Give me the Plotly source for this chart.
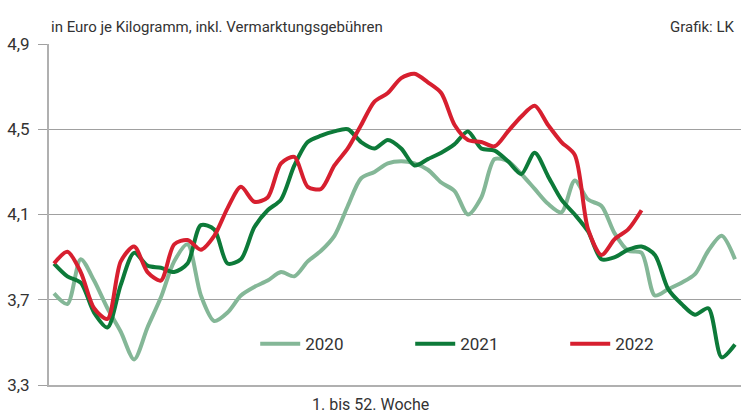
import plotly.graph_objects as go

weeks = list(range(1, 53))

y2020 = [3.73, 3.68, 3.89, 3.79, 3.66, 3.55, 3.42, 3.57, 3.71, 3.88,
         3.96, 3.72, 3.60, 3.64, 3.72, 3.76, 3.79, 3.83, 3.81, 3.88,
         3.93, 4.00, 4.14, 4.27, 4.30, 4.34, 4.35, 4.34, 4.31, 4.25,
         4.21, 4.10, 4.18, 4.36, 4.35, 4.29, 4.22, 4.15, 4.11, 4.26,
         4.17, 4.14, 4.01, 3.93, 3.92, 3.72, 3.75, 3.78, 3.82, 3.93,
         4.00, 3.89]

y2021 = [3.87, 3.81, 3.78, 3.64, 3.57, 3.77, 3.92, 3.86, 3.85, 3.83,
         3.87, 4.05, 4.03, 3.87, 3.89, 4.04, 4.12, 4.17, 4.33, 4.44,
         4.47, 4.49, 4.50, 4.44, 4.41, 4.45, 4.41, 4.33, 4.36, 4.39,
         4.43, 4.49, 4.41, 4.40, 4.35, 4.29, 4.39, 4.28, 4.17, 4.10,
         4.02, 3.89, 3.90, 3.935, 3.95, 3.91, 3.75, 3.68, 3.63, 3.66,
         3.43, 3.49]

y2022 = [3.87, 3.925, 3.83, 3.66, 3.61, 3.88, 3.95, 3.83, 3.79, 3.96,
         3.98, 3.935, 4.00, 4.13, 4.23, 4.16, 4.18, 4.34, 4.37, 4.23,
         4.22, 4.33, 4.41, 4.52, 4.63, 4.67, 4.74, 4.76, 4.72, 4.67,
         4.52, 4.45, 4.44, 4.42, 4.49, 4.56, 4.61, 4.52, 4.44, 4.38,
         4.03, 3.91, 3.985, 4.03, 4.12]

y_ticks = [3.3, 3.7, 4.1, 4.5, 4.9]

FONT = "Roboto, sans-serif"

series = [
    ("2020", y2020, "#84b797"),
    ("2021", y2021, "#0d7a39"),
    ("2022", y2022, "#d71f2f"),
]

fig = go.Figure()
for name, vals, col in series:
    fig.add_trace(go.Scatter(
        x=weeks[:len(vals)], y=vals, name=name, mode="lines",
        line=dict(color=col, width=4, shape="spline", smoothing=0.8),
    ))

fig.update_layout(
    width=742, height=417,
    margin=dict(l=49, r=1, t=44, b=32),
    paper_bgcolor="white", plot_bgcolor="white",
    separators=",.",
    font=dict(family=FONT, size=16, color="#333333"),
    showlegend=True,
    legend=dict(
        orientation="h", x=0.298, y=0.12, xanchor="left", yanchor="middle",
        entrywidth=100, entrywidthmode="pixels",
        font=dict(size=17, color="#333333"), bgcolor="rgba(0,0,0,0)",
        itemwidth=40, tracegroupgap=0,
    ),
    xaxis=dict(
        range=[0.625, 52.45], showticklabels=False, showgrid=False,
        zeroline=False, showline=True, linecolor="#b0b0b0", linewidth=2,
        ticks="",
    ),
    yaxis=dict(
        range=[3.3, 4.9], tickvals=y_ticks, tickformat=".1f",
        showgrid=True, gridcolor="#a0a0a0", gridwidth=1,
        zeroline=False, showline=True, linecolor="#b0b0b0", linewidth=2,
        ticks="outside", ticklen=9, tickcolor="#a0a0a0", tickwidth=1,
        tickfont=dict(size=17, color="#333333"), ticklabelstandoff=5,
    ),
    annotations=[
        dict(text="in Euro je Kilogramm, inkl. Vermarktungsgebühren",
             xref="paper", yref="paper", x=0, y=1, xanchor="left", yanchor="bottom",
             xshift=0, yshift=6, showarrow=False, font=dict(size=15, color="#333333")),
        dict(text="Grafik: LK", xref="paper", yref="paper", x=1, y=1,
             xanchor="right", yanchor="bottom", xshift=-4, yshift=6, showarrow=False,
             font=dict(size=15, color="#333333")),
        dict(text="1. bis 52. Woche", xref="x", yref="paper", x=24.67, y=0,
             xanchor="center", yanchor="top", yshift=-8, showarrow=False,
             font=dict(size=16, color="#333333")),
    ],
)

fig.write_html("out.html", config={"displayModeBar": False},
               post_script="document.body.style.margin='0';document.body.style.padding='0';")
